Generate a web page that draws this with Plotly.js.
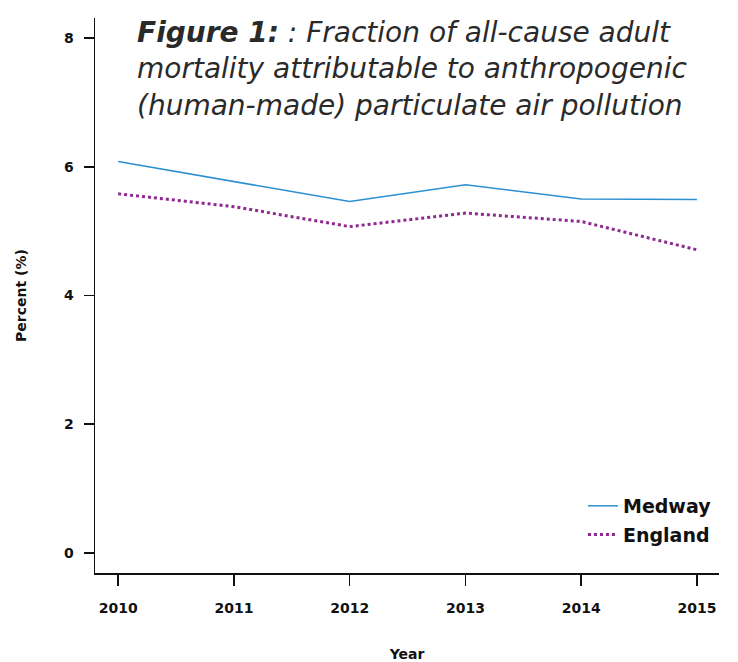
<!DOCTYPE html>
<html>
<head>
<meta charset="utf-8">
<script src="https://cdn.plot.ly/plotly-3.0.1.min.js"></script>
<style>html,body{margin:0;padding:0;background:#fff;}#chart{width:738px;height:662px;}</style>
</head>
<body>
<div id="chart"></div>
<script>
const years = [2010, 2011, 2012, 2013, 2014, 2015];
const medway = [6.08, 5.77, 5.46, 5.72, 5.50, 5.49];
const england = [5.58, 5.38, 5.07, 5.28, 5.15, 4.71];
const yTicks = [0, 2, 4, 6, 8];

const titleText = '<b>Figure 1:</b> : Fraction of all-cause adult<br>mortality attributable to anthropogenic<br>(human-made) particulate air pollution';

const traces = [
  {x: years, y: medway, name: 'Medway', mode: 'lines', type: 'scatter', legendgroup: 'a',
   line: {color: '#2b8fd1', width: 1.5}},
  {x: years, y: england, name: 'England', mode: 'lines', type: 'scatter', legendgroup: 'b',
   line: {color: '#8e2a8f', width: 3, dash: 'dot'}}
];

const layout = {
  width: 738, height: 662,
  margin: {l: 95, r: 19, t: 18, b: 89},
  paper_bgcolor: '#fff', plot_bgcolor: '#fff',
  font: {family: 'DejaVu Sans, sans-serif', color: '#111'},
  showlegend: true,
  legend: {x: 0.782, y: 0.155, xanchor: 'left', yanchor: 'top', tracegroupgap: 1,
    font: {size: 19, family: 'DejaVu Sans', weight: 'bold', color: '#111'},
    bgcolor: 'rgba(0,0,0,0)'},
  xaxis: {
    range: [2009.8, 2015.19], tickvals: years, ticktext: years.map(String),
    showgrid: false, zeroline: false, showline: true, linecolor: '#111', linewidth: 1.5,
    ticks: 'outside', ticklen: 11, tickwidth: 1.5, tickcolor: '#111',
    ticklabelstandoff: 11,
    tickfont: {size: 14, family: 'DejaVu Sans', weight: 'bold', color: '#111'},
    title: {text: '<b>Year</b>', font: {size: 14, family: 'DejaVu Sans', color: '#111'}, standoff: 36}
  },
  yaxis: {
    range: [-0.311, 8.311], tickvals: yTicks, ticktext: yTicks.map(String),
    showgrid: false, zeroline: false, showline: true, linecolor: '#111', linewidth: 1.5,
    ticks: 'outside', ticklen: 10, tickwidth: 1.5, tickcolor: '#111',
    ticklabelstandoff: 7,
    tickfont: {size: 14, family: 'DejaVu Sans', weight: 'bold', color: '#111'},
    title: {text: '<b>Percent (%)</b>', font: {size: 14, family: 'DejaVu Sans', color: '#111'}, standoff: 34}
  },
  annotations: [{
    text: titleText, xref: 'paper', yref: 'paper', x: 0.064, y: 1.008,
    xanchor: 'left', yanchor: 'top', align: 'left', showarrow: false,
    font: {size: 28, family: 'DejaVu Sans', style: 'italic', weight: 'normal', color: '#2a2a2a'}
  }]
};

Plotly.newPlot('chart', traces, layout, {displayModeBar: false, staticPlot: true});
</script>
</body>
</html>
